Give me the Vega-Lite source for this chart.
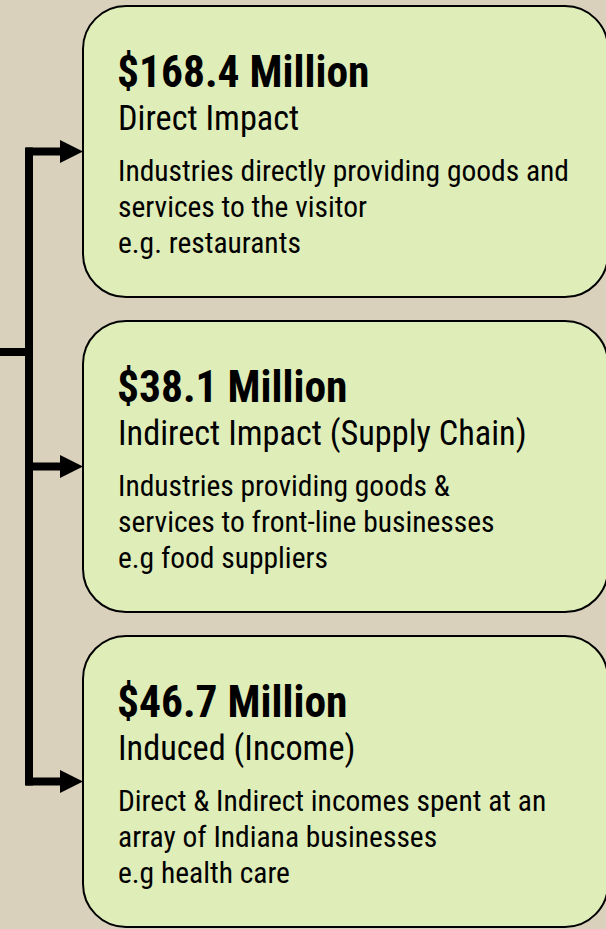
{
  "$schema": "https://vega.github.io/schema/vega-lite/v6.json",
  "width": 606,
  "height": 929,
  "autosize": {"type": "none"},
  "padding": 0,
  "background": "#D9D1BC",
  "config": {"view": {"stroke": null}},
  "data": {"values": [
    {"impact": "Direct Impact", "amount": "$168.4 Million", "desc": ["Industries directly providing goods and", "services to the visitor", "e.g. restaurants"]},
    {"impact": "Indirect Impact (Supply Chain)", "amount": "$38.1 Million", "desc": ["Industries providing goods &", "services to front-line businesses", "e.g food suppliers"]},
    {"impact": "Induced (Income)", "amount": "$46.7 Million", "desc": ["Direct & Indirect incomes spent at an", "array of Indiana businesses", "e.g health care"]}
  ]},
  "layer": [
    {
      "mark": {"type": "rect", "cornerRadius": 43, "fill": "#DFEDB9", "stroke": "#000000", "strokeWidth": 2},
      "encoding": {
        "y": {"field": "impact", "type": "nominal", "sort": null, "axis": null, "scale": {"range": [6, 927], "paddingInner": 0.076, "paddingOuter": 0}},
        "x": {"value": 83},
        "x2": {"value": 608}
      }
    },
    {
      "mark": {"type": "line", "color": "#000000", "strokeWidth": 8, "strokeCap": "square", "strokeJoin": "round"},
      "encoding": {
        "y": {"field": "impact", "type": "nominal", "sort": null, "bandPosition": 0.5},
        "x": {"value": 29}
      }
    },
    {
      "mark": {"type": "rule", "color": "#000000", "strokeWidth": 8},
      "encoding": {
        "y": {"field": "impact", "type": "nominal", "sort": null, "bandPosition": 0.5},
        "x": {"value": 26},
        "x2": {"value": 63}
      }
    },
    {
      "mark": {"type": "point", "shape": "M-1,-1L1,0L-1,1Z", "filled": true, "color": "#000000", "opacity": 1, "size": 529, "strokeWidth": 0},
      "encoding": {
        "y": {"field": "impact", "type": "nominal", "sort": null, "bandPosition": 0.5},
        "x": {"value": 71.5}
      }
    },
    {
      "data": {"values": [{"source": "input"}]},
      "mark": {"type": "rule", "color": "#000000", "strokeWidth": 8},
      "encoding": {
        "y": {"value": 352},
        "x": {"value": 0},
        "x2": {"value": 33}
      }
    },
    {
      "mark": {"type": "text", "font": "Roboto Condensed", "fontWeight": "bold", "fontSize": 43.5, "align": "left", "baseline": "alphabetic", "dy": 81, "color": "#000000"},
      "encoding": {
        "y": {"field": "impact", "type": "nominal", "sort": null, "bandPosition": 0},
        "x": {"value": 117},
        "text": {"field": "amount"}
      }
    },
    {
      "mark": {"type": "text", "font": "Roboto Condensed", "fontSize": 34.3, "align": "left", "baseline": "alphabetic", "dy": 124, "color": "#000000"},
      "encoding": {
        "y": {"field": "impact", "type": "nominal", "sort": null, "bandPosition": 0},
        "x": {"value": 118},
        "text": {"field": "impact"}
      }
    },
    {
      "mark": {"type": "text", "font": "Roboto Condensed", "fontSize": 29.5, "lineHeight": 36, "align": "left", "baseline": "alphabetic", "dy": 175, "color": "#000000"},
      "encoding": {
        "y": {"field": "impact", "type": "nominal", "sort": null, "bandPosition": 0},
        "x": {"value": 118},
        "text": {"field": "desc"}
      }
    }
  ]
}
